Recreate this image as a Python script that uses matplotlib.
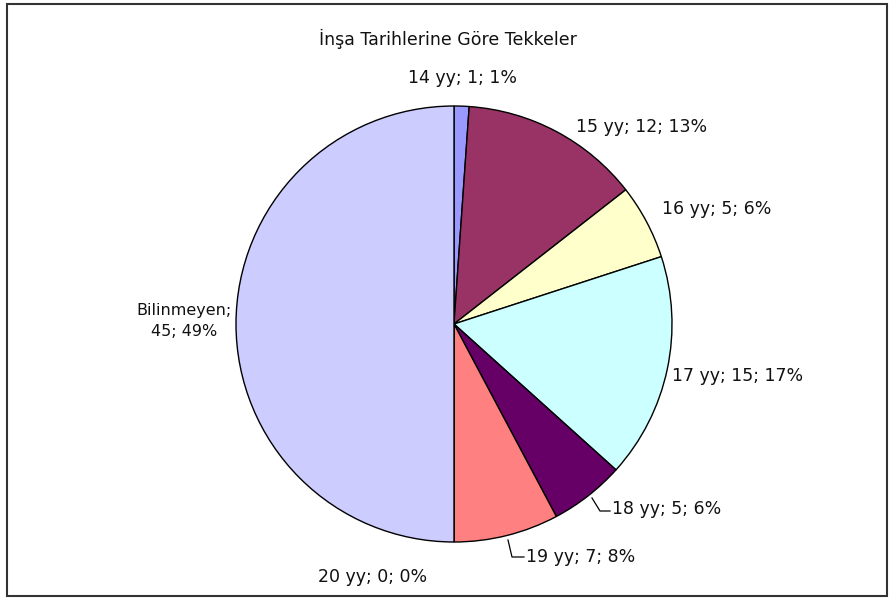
import matplotlib.pyplot as plt

# Datos del gráfico
categories = ['14 yy', '15 yy', '16 yy', '17 yy', '18 yy', '19 yy', '20 yy', 'Bilinmeyen']
values = [1, 12, 5, 15, 5, 7, 0, 45]
labels = ['14 yy; 1; 1%', '15 yy; 12; 13%', '16 yy; 5; 6%', '17 yy; 15; 17%',
          '18 yy; 5; 6%', '19 yy; 7; 8%', '20 yy; 0; 0%', 'Bilinmeyen;\n45; 49%']
colors = ['#9999FF', '#993366', '#FFFFCC', '#CCFFFF', '#660066', '#FF8080', '#0066CC', '#CCCCFF']

# Posiciones de las etiquetas (pixeles, origen arriba-izquierda)
label_pos = [(462, 78, 'center'), (576, 127, 'left'), (662, 209, 'left'), (672, 376, 'left'),
             (612, 509, 'left'), (526, 557, 'left'), (318, 577, 'left'), (184, 321, 'center')]
# lineas guia: inicio, codo, fin
leaders = {4: [(592, 498), (600, 511), (610, 511)],
           5: [(508, 540), (512, 557), (524, 557)]}

W, H = 893, 601
fig = plt.figure(figsize=(W / 100, H / 100), dpi=100)
ax = fig.add_axes([0, 0, 1, 1])

ax.pie(values, colors=colors, startangle=90, counterclock=False,
       center=(454, H - 324), radius=218, frame=True,
       wedgeprops=dict(edgecolor='black', linewidth=1))
ax.set_xlim(0, W)
ax.set_ylim(0, H)
ax.set_aspect('equal')
ax.axis('off')

# Marco exterior
ax.add_patch(plt.Rectangle((7, H - 596), 880, 592, fill=False, edgecolor='#333333', lw=1.5))

font = dict(family='DejaVu Sans', fontsize=12.5, color='#111111')
ax.text(448, H - 39, 'İnşa Tarihlerine Göre Tekkeler', ha='center', va='center', **font)

for i, lab in enumerate(labels):
    x, y, ha = label_pos[i]
    fs = 11.5 if i == 7 else 12.5
    ax.text(x, H - y, lab, ha=ha, va='center', linespacing=1.5,
            **{**font, 'fontsize': fs})

for i, pts in leaders.items():
    ax.plot([p[0] for p in pts], [H - p[1] for p in pts], color='black', lw=0.9)

plt.savefig('out.png', dpi=100)
plt.close()
